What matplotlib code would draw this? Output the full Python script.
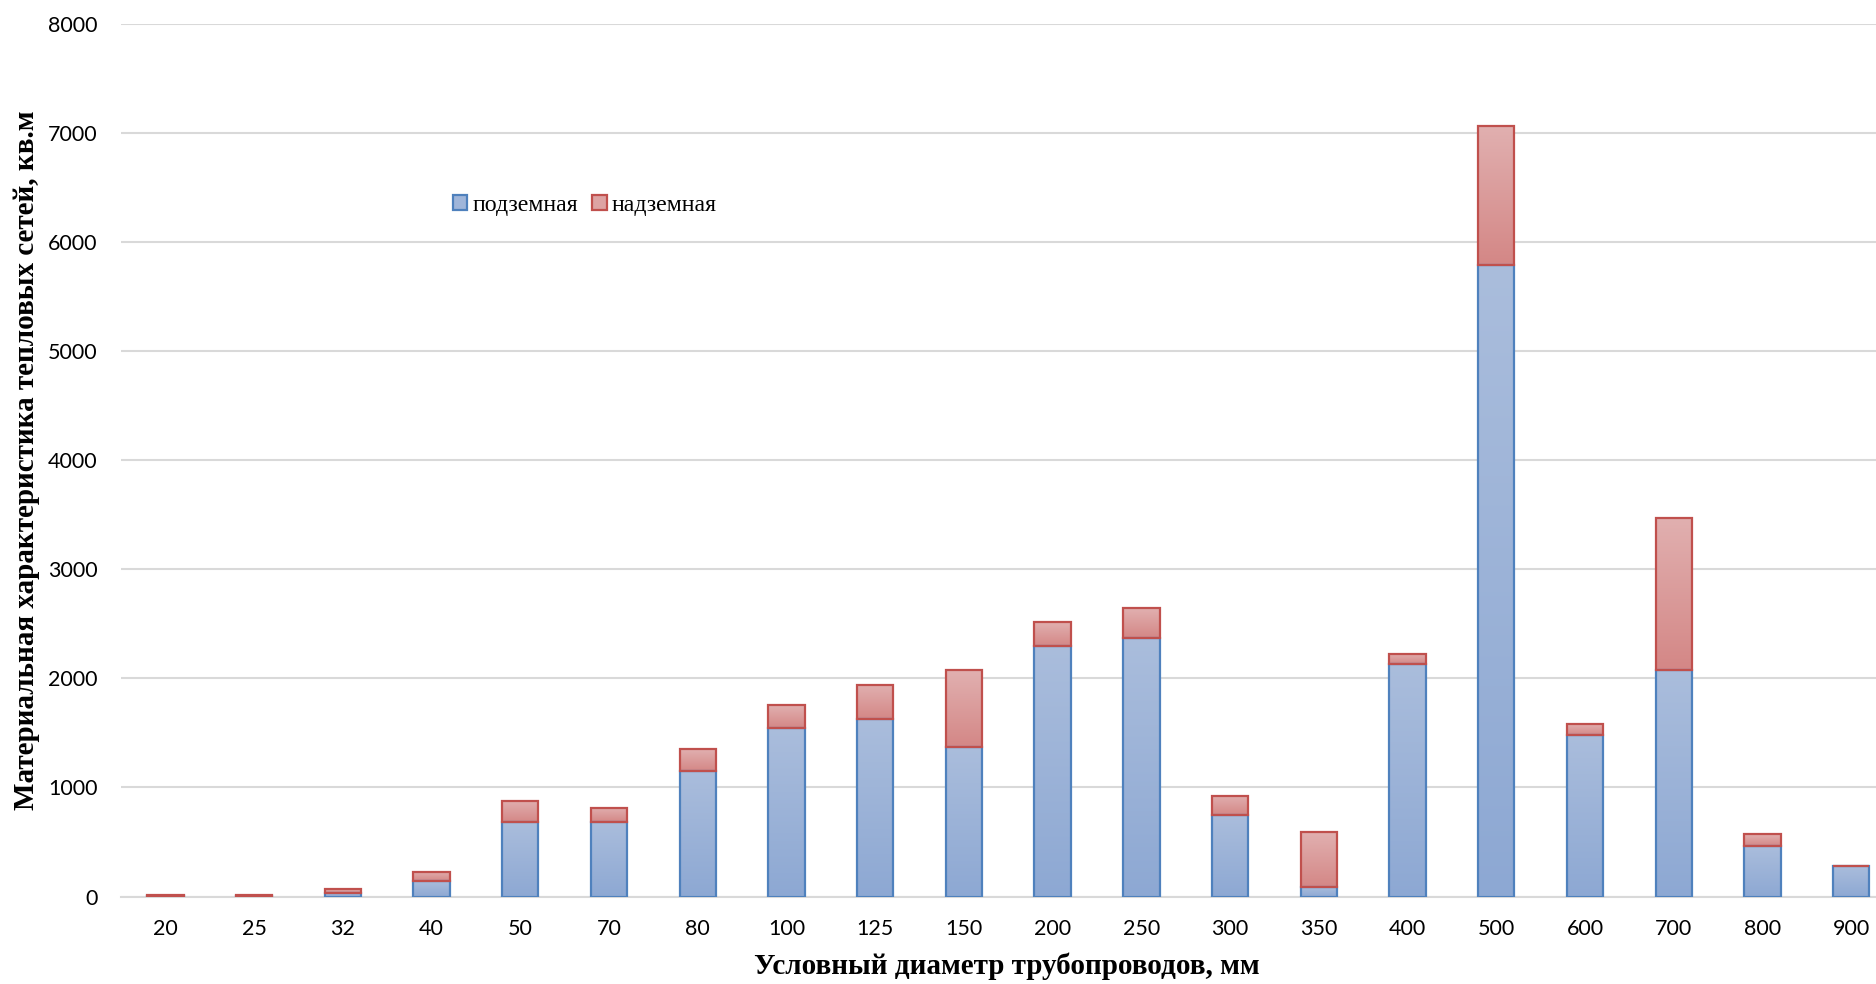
import numpy as np
import matplotlib
matplotlib.use("Agg")
import matplotlib.pyplot as plt
from matplotlib.colors import LinearSegmentedColormap

# data
diameters = ["20", "25", "32", "40", "50", "70", "80", "100", "125", "150",
             "200", "250", "300", "350", "400", "500", "600", "700", "800", "900"]
underground = [2, 2, 35, 145, 680, 680, 1153, 1548, 1625, 1372,
               2294, 2371, 746, 90, 2130, 5789, 1482, 2075, 463, 280]
overground = [10, 8, 35, 83, 198, 132, 197, 208, 318, 703,
              220, 274, 176, 502, 98, 1275, 99, 1394, 108, 0]

blue_edge = "#4F81BD"
red_edge = "#C0504D"
blue_grad = LinearSegmentedColormap.from_list("b", ["#8DA8D3", "#AABDDC"])
red_grad = LinearSegmentedColormap.from_list("r", ["#D48786", "#E1B0B0"])

fig = plt.figure(figsize=(18.76, 9.84), dpi=100)
ax = fig.add_axes([0.0645, 0.0889, 0.9355, 0.8867])

x = np.arange(len(diameters))
w = 0.41

b1 = ax.bar(x, underground, w, color="none", edgecolor=blue_edge, linewidth=1.6,
            label="подземная", zorder=3)
b2 = ax.bar(x, overground, w, bottom=underground, color="none", edgecolor=red_edge,
            linewidth=1.6, label="надземная", zorder=3)

# vertical gradient fill, like the original Excel bars
grad = np.linspace(0, 1, 256).reshape(-1, 1)
for bars, cmap in ((b1, blue_grad), (b2, red_grad)):
    for p in bars:
        if p.get_height() <= 0:
            continue
        x0, y0 = p.get_x(), p.get_y()
        im = ax.imshow(grad, cmap=cmap, origin="lower", aspect="auto",
                       extent=[x0, x0 + p.get_width(), y0, y0 + p.get_height()],
                       zorder=2, interpolation="bicubic")
        im.set_clip_path(p)

ax.set_xlim(-0.5, 19.28)
ax.set_ylim(0, 8000)
ax.set_yticks(range(0, 8001, 1000))
ax.set_xticks(x)
ax.set_xticklabels(diameters)
ax.grid(axis="y", color="#D9D9D9", linewidth=1.5, zorder=0)
ax.set_axisbelow(True)
for s in ["top", "right", "left"]:
    ax.spines[s].set_visible(False)
ax.spines["bottom"].set_color("#D9D9D9")
ax.spines["bottom"].set_linewidth(1.5)
ax.tick_params(length=0, labelsize=15.5)
ax.tick_params(axis="x", pad=16)
ax.tick_params(axis="y", pad=17)
for lab in ax.get_xticklabels() + ax.get_yticklabels():
    lab.set_family("Lato")

ax.set_xlabel("Условный диаметр трубопроводов, мм", family="Liberation Serif",
              fontweight="bold", fontsize=21, va="center")
ax.xaxis.set_label_coords(0.505, -0.0797)
ax.set_ylabel("Материальная характеристика тепловых сетей, кв.м", family="Liberation Serif",
              fontweight="bold", fontsize=21, va="center")
ax.yaxis.set_label_coords(-0.054, 0.5)

leg = ax.legend(loc="center left", bbox_to_anchor=(0.177, 0.792), ncol=2, frameon=False,
                prop={"family": "Liberation Serif", "size": 17.2},
                handlelength=0.6, handleheight=0.6, handletextpad=0.2, columnspacing=0.6)
leg.legend_handles[0].set_facecolor("#A0B6DA")
leg.legend_handles[1].set_facecolor("#DDA3A3")

fig.savefig("out.png", dpi=100)
